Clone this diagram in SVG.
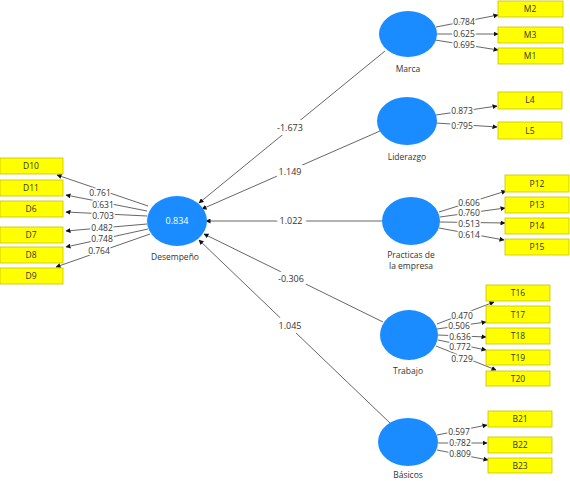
<svg xmlns="http://www.w3.org/2000/svg" width="570" height="481" viewBox="0 0 570 481">
<style>
.lv{fill:#1a8cff;}
.ind{fill:#ffff00;stroke:#c8c000;stroke-width:0.8;}
.t{font-family:"Open Sans","Liberation Sans",sans-serif;font-size:8.5px;fill:#333;text-anchor:middle;}
.lbl{font-family:"Open Sans","Liberation Sans",sans-serif;font-size:8.5px;fill:#333;text-anchor:middle;paint-order:stroke;stroke:#fff;stroke-width:3px;}
.sl{font-family:"Open Sans","Liberation Sans",sans-serif;font-size:9px;fill:#333;text-anchor:middle;paint-order:stroke;stroke:#fff;stroke-width:8px;}
.c{stroke:#555;stroke-width:0.9;fill:none;marker-end:url(#ah);}
.w{font-family:"Open Sans","Liberation Sans",sans-serif;font-size:9px;fill:#fff;text-anchor:middle;}
</style>
<defs>
<marker id="ah" viewBox="0 0 10 10" refX="9" refY="5" markerWidth="5" markerHeight="5" orient="auto" markerUnits="userSpaceOnUse">
<path d="M0,0 L10,5 L0,10 z" fill="#111"/>
</marker>
</defs>
<rect width="570" height="481" fill="#fff"/>
<g id="connectors">
<line class="c" x1="148" y1="206" x2="57" y2="175"/>
<line class="c" x1="147" y1="211" x2="66" y2="195"/>
<line class="c" x1="147" y1="216" x2="66" y2="212"/>
<line class="c" x1="147" y1="224" x2="66" y2="231"/>
<line class="c" x1="148" y1="229" x2="66" y2="247"/>
<line class="c" x1="150" y1="234" x2="56" y2="267"/>
<text class="lbl" x="100" y="196">0.761</text>
<text class="lbl" x="103" y="208">0.631</text>
<text class="lbl" x="103" y="219">0.703</text>
<text class="lbl" x="102" y="231">0.482</text>
<text class="lbl" x="102" y="242">0.748</text>
<text class="lbl" x="99" y="254">0.764</text>

<line class="c" x1="436" y1="27" x2="498" y2="15"/>
<line class="c" x1="437" y1="34" x2="498" y2="34"/>
<line class="c" x1="435" y1="40" x2="498" y2="50"/>
<text class="lbl" x="464" y="25">0.784</text>
<text class="lbl" x="464" y="37">0.625</text>
<text class="lbl" x="464" y="48">0.695</text>

<line class="c" x1="436" y1="115" x2="497" y2="106"/>
<line class="c" x1="436" y1="123" x2="497" y2="127"/>
<text class="lbl" x="462" y="114">0.873</text>
<text class="lbl" x="462" y="129">0.795</text>

<line class="c" x1="439" y1="212" x2="506" y2="191"/>
<line class="c" x1="440" y1="217" x2="505" y2="208"/>
<line class="c" x1="440" y1="222" x2="505" y2="223"/>
<line class="c" x1="439" y1="228" x2="504" y2="240"/>
<text class="lbl" x="469" y="206">0.606</text>
<text class="lbl" x="469" y="216">0.760</text>
<text class="lbl" x="469" y="227">0.513</text>
<text class="lbl" x="469" y="238">0.614</text>

<line class="c" x1="437" y1="324" x2="494" y2="302"/>
<line class="c" x1="437" y1="329" x2="486" y2="322"/>
<line class="c" x1="438" y1="335" x2="486" y2="337"/>
<line class="c" x1="438" y1="340" x2="486" y2="350"/>
<line class="c" x1="436" y1="346" x2="496" y2="370"/>
<text class="lbl" x="462" y="319">0.470</text>
<text class="lbl" x="459" y="329">0.506</text>
<text class="lbl" x="460" y="340">0.636</text>
<text class="lbl" x="460" y="350">0.772</text>
<text class="lbl" x="462" y="362">0.729</text>

<line class="c" x1="437" y1="435" x2="487" y2="425"/>
<line class="c" x1="438" y1="443" x2="487" y2="443"/>
<line class="c" x1="437" y1="450" x2="488" y2="460"/>
<text class="lbl" x="459" y="435">0.597</text>
<text class="lbl" x="460" y="446">0.782</text>
<text class="lbl" x="460" y="457">0.809</text>

<line class="c" x1="385" y1="51" x2="199" y2="203"/>
<line class="c" x1="380" y1="131" x2="202" y2="209"/>
<line class="c" x1="382" y1="221" x2="206" y2="221"/>
<line class="c" x1="383" y1="322" x2="204" y2="234"/>
<line class="c" x1="390" y1="423" x2="199" y2="240"/>
<text class="sl" x="290" y="131">-1.673</text>
<text class="sl" x="290" y="175">1.149</text>
<text class="sl" x="291" y="224">1.022</text>
<text class="sl" x="291" y="282">-0.306</text>
<text class="sl" x="290" y="329">1.045</text>
</g>

<g id="Desempeno">
<ellipse class="lv" cx="177" cy="221" rx="30" ry="25"/>
<text class="w" x="177" y="224">0.834</text>
<text class="t" x="175" y="260">Desempeño</text>
</g>
<g id="D10"><rect class="ind" x="0" y="158" width="63" height="16"/><text class="t" x="31" y="169">D10</text></g>
<g id="D11"><rect class="ind" x="0" y="180" width="63" height="16"/><text class="t" x="31" y="191">D11</text></g>
<g id="D6"><rect class="ind" x="0" y="201" width="63" height="16"/><text class="t" x="31" y="212">D6</text></g>
<g id="D7"><rect class="ind" x="0" y="227" width="63" height="16"/><text class="t" x="31" y="238">D7</text></g>
<g id="D8"><rect class="ind" x="0" y="247" width="63" height="16"/><text class="t" x="31" y="258">D8</text></g>
<g id="D9"><rect class="ind" x="0" y="268" width="63" height="16"/><text class="t" x="31" y="279">D9</text></g>

<g id="Marca">
<ellipse class="lv" cx="408" cy="34" rx="29" ry="23"/>
<text class="t" x="408" y="72">Marca</text>
</g>
<g id="M2"><rect class="ind" x="498" y="1" width="65" height="16"/><text class="t" x="530" y="12">M2</text></g>
<g id="M3"><rect class="ind" x="498" y="27" width="65" height="16"/><text class="t" x="530" y="38">M3</text></g>
<g id="M1"><rect class="ind" x="498" y="48" width="65" height="16"/><text class="t" x="530" y="59">M1</text></g>

<g id="Liderazgo">
<ellipse class="lv" cx="407" cy="121" rx="30" ry="24"/>
<text class="t" x="407" y="160">Liderazgo</text>
</g>
<g id="L4"><rect class="ind" x="498" y="92" width="64" height="17"/><text class="t" x="530" y="103">L4</text></g>
<g id="L5"><rect class="ind" x="498" y="122" width="64" height="17"/><text class="t" x="530" y="134">L5</text></g>

<g id="Practicas">
<ellipse class="lv" cx="411" cy="221" rx="29" ry="24"/>
<text class="t" x="411" y="258">Practicas de</text>
<text class="t" x="411" y="269">la empresa</text>
</g>
<g id="P12"><rect class="ind" x="505" y="175" width="64" height="17"/><text class="t" x="537" y="187">P12</text></g>
<g id="P13"><rect class="ind" x="505" y="197" width="64" height="16"/><text class="t" x="537" y="208">P13</text></g>
<g id="P14"><rect class="ind" x="505" y="218" width="64" height="16"/><text class="t" x="537" y="229">P14</text></g>
<g id="P15"><rect class="ind" x="505" y="239" width="64" height="16"/><text class="t" x="537" y="250">P15</text></g>

<g id="Trabajo">
<ellipse class="lv" cx="409" cy="335" rx="29" ry="25"/>
<text class="t" x="408" y="374">Trabajo</text>
</g>
<g id="T16"><rect class="ind" x="486" y="285" width="64" height="16"/><text class="t" x="518" y="296">T16</text></g>
<g id="T17"><rect class="ind" x="486" y="306" width="64" height="17"/><text class="t" x="518" y="318">T17</text></g>
<g id="T18"><rect class="ind" x="486" y="328" width="64" height="16"/><text class="t" x="518" y="339">T18</text></g>
<g id="T19"><rect class="ind" x="486" y="350" width="64" height="15"/><text class="t" x="518" y="361">T19</text></g>
<g id="T20"><rect class="ind" x="486" y="371" width="64" height="15"/><text class="t" x="518" y="382">T20</text></g>

<g id="Basicos">
<ellipse class="lv" cx="408" cy="442" rx="30" ry="24"/>
<text class="t" x="408" y="478">Básicos</text>
</g>
<g id="B21"><rect class="ind" x="488" y="411" width="64" height="16"/><text class="t" x="520" y="422">B21</text></g>
<g id="B22"><rect class="ind" x="488" y="437" width="64" height="16"/><text class="t" x="520" y="448">B22</text></g>
<g id="B23"><rect class="ind" x="488" y="458" width="64" height="15"/><text class="t" x="520" y="469">B23</text></g>
</svg>
